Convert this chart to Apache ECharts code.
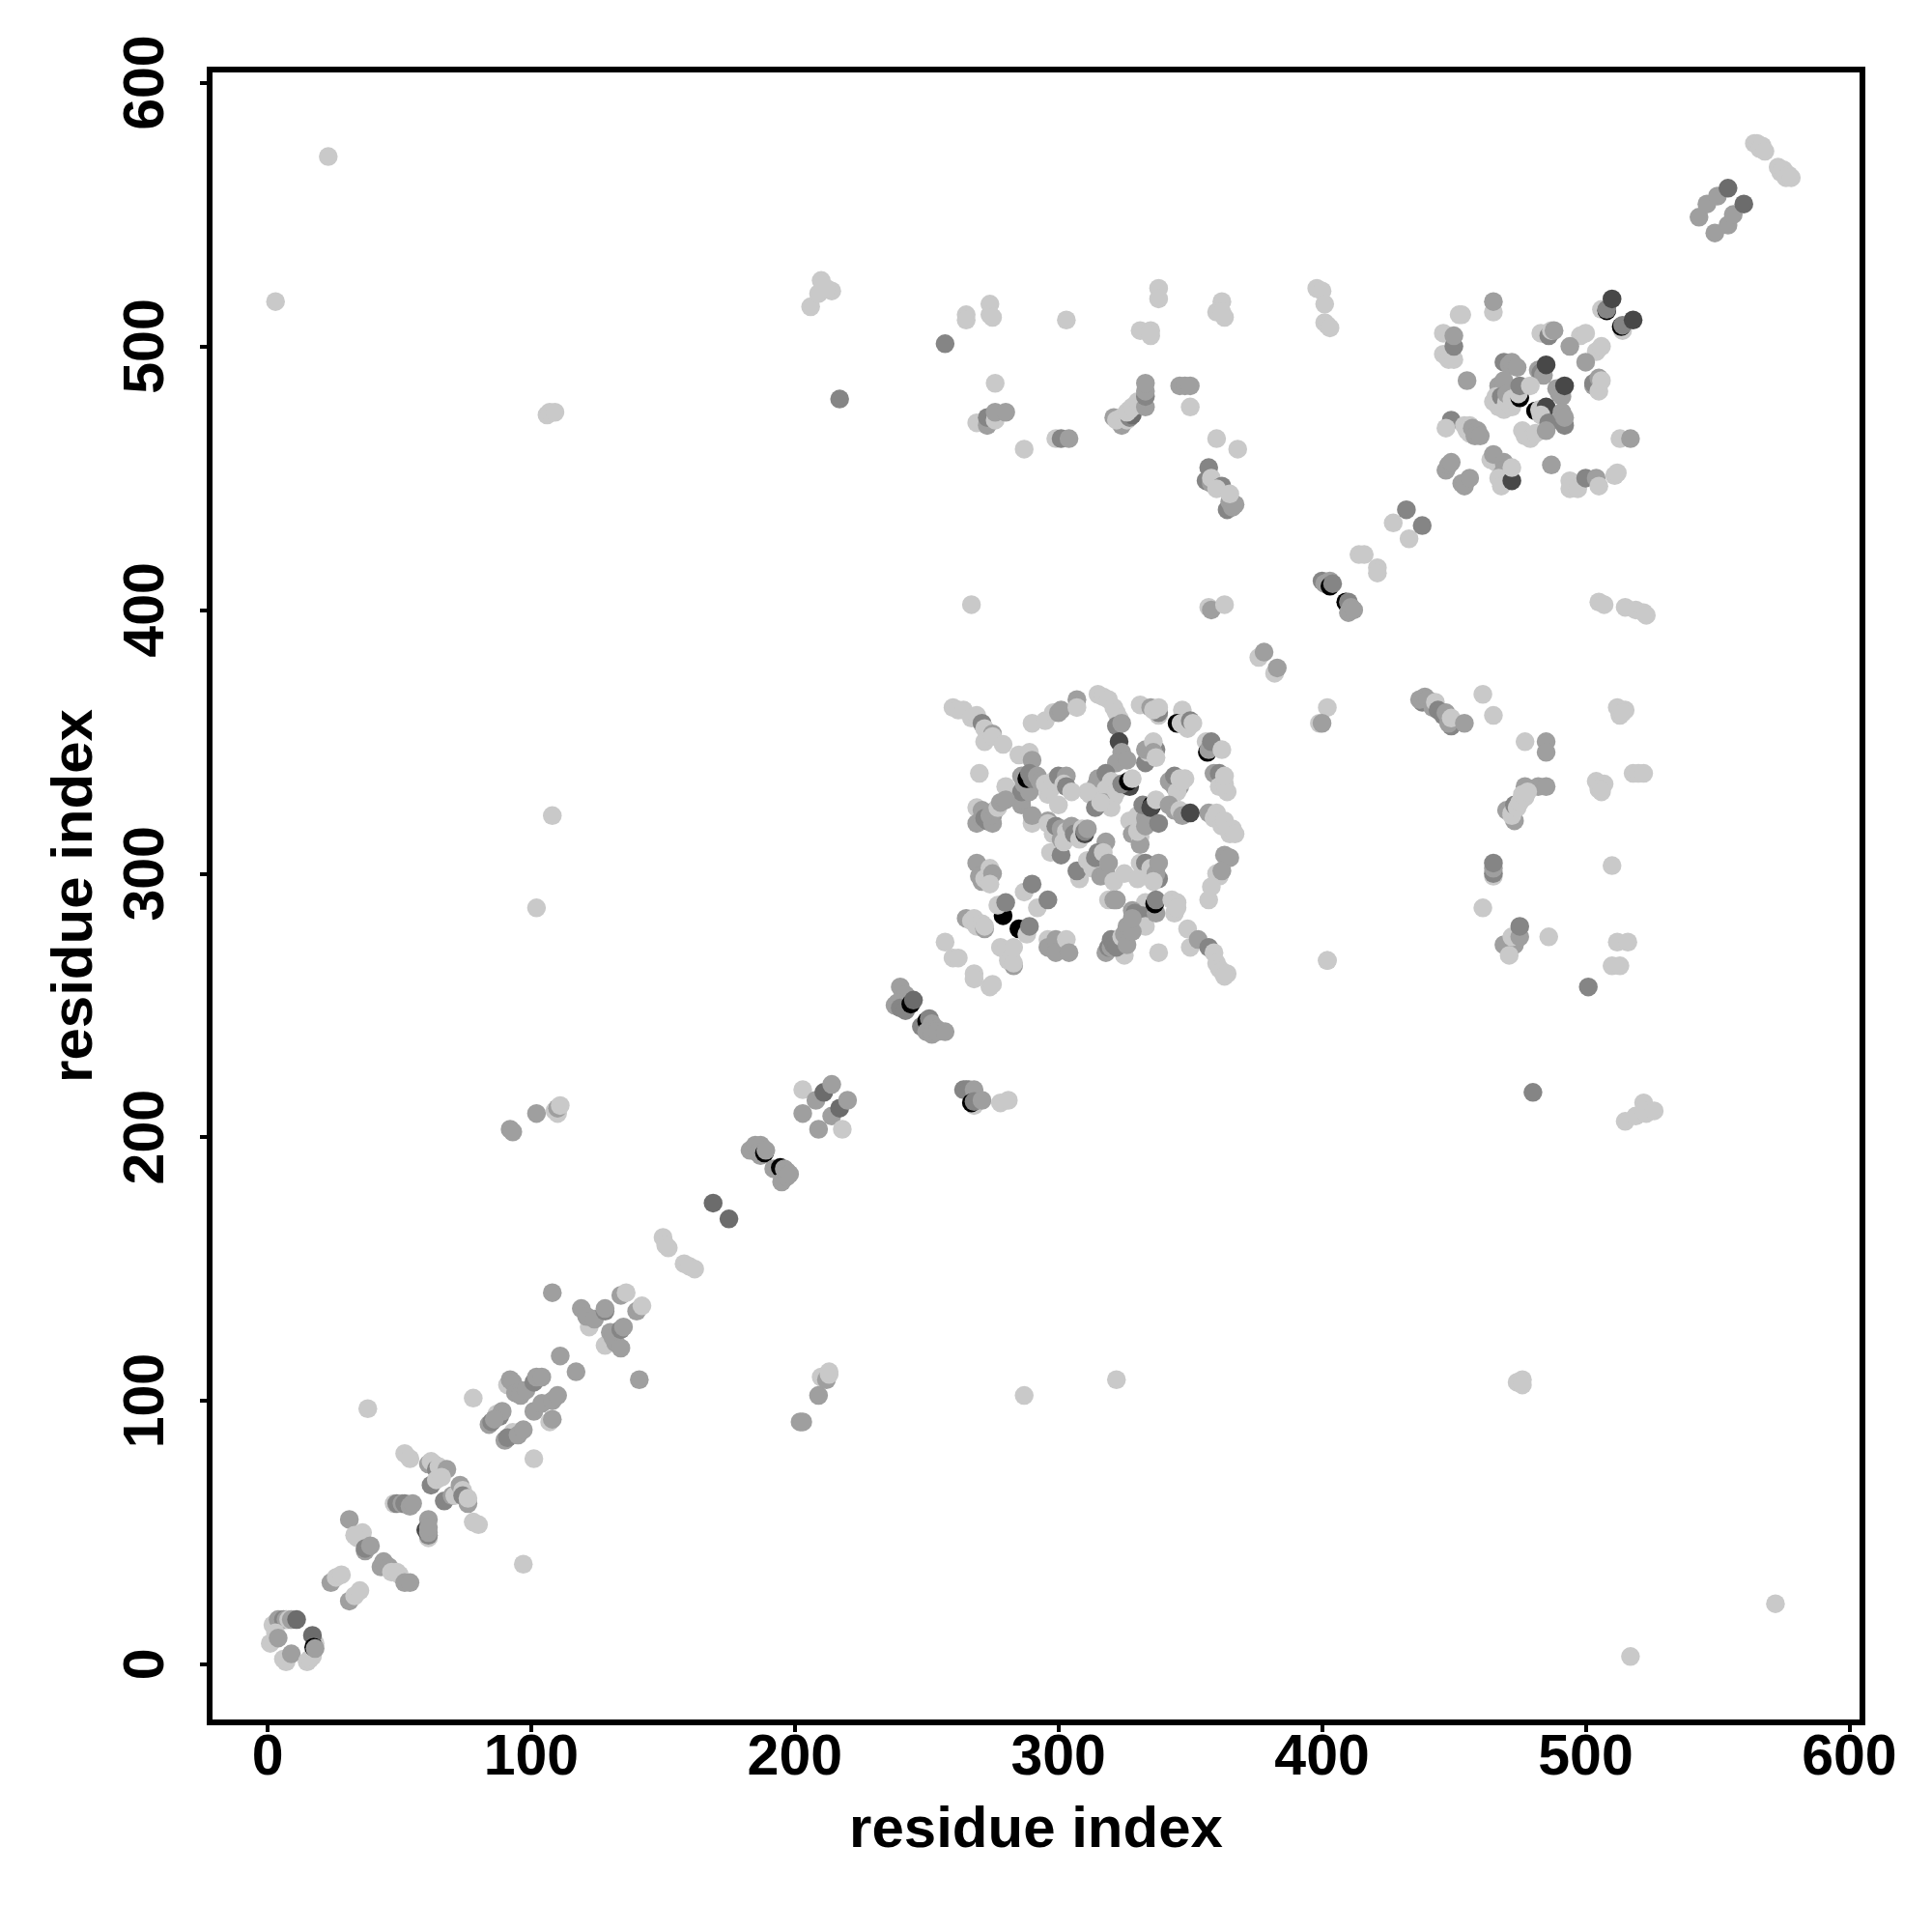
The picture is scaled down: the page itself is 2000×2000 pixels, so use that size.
<!DOCTYPE html>
<html><head><meta charset="utf-8"><title>Residue contact map</title>
<script src="https://cdn.jsdelivr.net/npm/echarts@6/dist/echarts.min.js"></script>
<style>html,body{margin:0;padding:0;background:#fff}#c{width:2000px;height:2000px}</style></head>
<body><div id="c"></div>
<script>
// Tick labels and axis text
const tickValues = [0, 100, 200, 300, 400, 500, 600];
const axisTitle = 'residue index';
// Gray shades, level 1..6
const grayLevels = ['#c9c9c9', '#9f9f9f', '#858585', '#484848', '#000000', '#6c6c6c'];
// Each point: [residue x, residue y, gray level], in drawing order
const isolated = [[23,572,1],[3,517,1],[517,3,1],[572,23,1],[38,97,1],[97,38,1],[78,101,1],[101,78,1],[106,474,1],[107,475,1],[109,475,1],[474,107,1],[476,108,1],[476,106,1],[217,480,3],[480,217,3],[267,402,1],[402,267,1],[108,322,1],[322,108,1],[102,287,1],[287,102,1],[108,141,2],[141,108,2],[111,117,2],[117,111,2],[92,203,2],[93,202,2],[102,209,2],[109,210,1],[110,209,1],[110,211,2],[111,212,1],[202,92,2],[203,92,2],[209,102,2],[210,109,1],[212,108,2],[213,110,1],[213,111,1],[257,501,3],[501,257,3]];
const diagonalA = [[2,15,1],[4,17,2],[6,17,3],[7,17,2],[8,17,1],[9,17,2],[11,17,6],[3,12,1],[1,8,1],[4,10,2],[7,1,1],[6,2,1],[9,4,2],[15,1,1],[16,2,1],[17,3,1],[18,8,1],[17,11,6],[17.5,6.5,5],[18,6,2],
[24,31,2],[26,33,1],[28,34,1],[31,24,2],[33,26,1],[35,28,1],[31,55,2],[34,48,1],[36,50,1],[33,49,1],[37,43,2],[37,44,3],[39,45,2],[43,37,2],[44,39,2],[46,37,2],[47,35,1],[49,35,1],[50,34,1],[52,31,2],[54,31,2],
[52,80,1],[54,78,1],[78,54,1],[80,53,1],[48,61,1],[49,61,3],[51,61,2],[52,61,3],[54,60,2],[55,61,2],[61,76,2],[63,76,2],[62,77,1],[64,74,3],[65,75,1],[66,73,1],[68,74,2],[62,68,3],[64,70,1],[66,71,1],[67,62,3],[70,64,2],[71,64,1],[73,68,2],[74,66,1],[74,64,3],[76,61,2],[76,63,1],[61,55,2],[61,48,1],[61,49,3],[60,51,4],[61,50,2],[61,52,2]];
const diagonalB = [[91,106,1],[92,108,2],[93,107,2],[94,103,2],[96,104,2],[96,102,2],[98,104,2],[101,107,3],[102,109,2],[104,109,2],[87,95,1],[88,94,3],[89,96,2],[84,91,2],[85,92,3],[86,93,2],[93,88,1],[90,85,2],[91,86,3],[95,87,2],[97,89,2],[101,96,2],[104,99,2],[108,100,2],[110,102,2],[107,92,1],[108,93,2],
[122,128,1],[119,135,2],[121,132,2],[124,131,2],[128,134,3],[128,135,2],[134,140,2],[136,141,1],[140,134,2],[142,136,1],[128,121,1],[130,126,2],[132,122,2],[131,124,2],[134,120,2],[134,127,3],[135,128,2]];
const diagonalC = [[150,162,1],[151,159,1],[152,158,1],[158,152,1],[160,151,1],[162,150,1],[169,175,6],[175,169,6],
[183,195,2],[185,197,2],[187,197,2],[186,194,2],[187,193,2],[188.5,194,5],[189,195,2],[192,188,2],[194.5,188.5,5],[196,188,2],[197,187,2],[195,183,2],[197,185,2],[198,186,2],
[203,218,1],[208,214,2],[211,217,6],[214,220,2],[203,209,2],[214,208,2],[217,211,6],[220,214,2],[209,203,2],[218,203,1],
[240,257,2],[242,254,2],[238,250,2],[239,251,2],[240,249,3],[242,248,3],[244,250.5,5],[245,252,6],[248,242,3],[250,244,5],[251,245,3],[252,243,2],[254,241,2],[250,240,2],[252,239,2],[254,240,2],[257,240,2]];
const diagonalD = [[376,382,1],[378,384,2],[382,376,1],[383,378,2],[400,411,3],[401,410,2],[403,411,2],[403,409,5],[404,410,3],[409,403,5],[410,403,3],[410,399,2],[411,401,2],[412,400,2],[414,421,1],[416,421,1],[421,416,1],[421,414,1],[427,433,1],[433,427,1],[432,438,3],[438,432,3]];
const cornerEnd = [[543,549,2],[546,554,2],[550,557,2],[554,560,6],[549,543,2],[554,546,2],[556,550,2],[560,554,6],[564,577,1],[565,577,1],[566,575,1],[567,576,1],[568,574,1],[573,568,1],[574,566,1],[575,567,1],[576,564,1],[577,565,1],[578,564,1]];
const blockLeftTop = [[264,218,3],[265,218,3],[266,218,3],[268,218,2],[268,212,1],[267,213,5],[268,213.5,3],[271,214,2],[278,213,1],[281,214,1],[515,206,1],[519,208,1],[522,213,1],[523,209,1],[522,210,1],[526,210,1],
[265,512,1],[265,510,1],[274,516,1],[274,512,1],[275,511,1],[303,510,1],[338,522,1],[338,518,1],[331,506,1],[335,506,1],[335,504,1],[362,517,1],[360,513,1],[363,511,1],[362,513,1],[276,486,1],
[206,515,1],[210,525,1],[209,520,1],[214,521,1],[212,522,1],[398,522,1],[400,521,1],[401,516,1],[401,509,1],[402,508,1],[403,507,1],
[269,471,1],[273,470,2],[273,473,3],[276,472,1],[276,475,2],[280,475,2],[287,461,1],[299,465,1],[301,465,3],[304,465,2],
[321,473,2],[324,470,2],[322,472,1],[324,473,1],[326,472,1],[327,473,3],[328,474,6],[327,476,1],[326,475,1],[328,477,1],[330,479,1],[333,477,2],[333,481,3],[333,483,2],[333,486,2],[346,485,2],[348,485,2],[350,485,2],[350,477,1],[360,465,1],[368,461,1],
[357,454,3],[356,449,3],[358,448,2],[358,450,1],[362,447,3],[360,446,1],[364,438,3],[365,441,2],[366,439,2],[367,440,2],[365,444,1]];
const blockRightLow = [[402,363,1],[399,357,1],[400,357,2],[357,401,1],[358,400,2],[363,402,1],[505,403,1],[507,402,1],[515,401,1],[519,400,1],[522,399,1],[523,398,1],
[438,365,3],[437,366,2],[439,367,2],[440,366,2],[442,363,2],[443,365,1],[444,362,3],[446,360,3],[447,361,2],[449,356,3],[448,357,2],[449,359,1],[454,357,2],[461,368,1],[465,360,1],
[477,350,1],[485,350,2],[485,346,2],[512,363,1],[515,362,1],[513,360,1],[514,361,1],[518,338,1],[520,338,1],[522,338,1],[504,335,1],[507,334,1],[505,332,1],[506,331,1],
[477,333,2],[482,333,2],[485,333,2],[470,324,2],[473,320,2],[472,323,1],[472,322,1],[473,326,3],[474,325,1],[475,327,1],[476,330,1],[477,329,1],[478,331,1],
[465,299,1],[465,300,3],[465,302,2],[465,304,3],[510,303,1],[461,287,1],[469,273,2],[473,273,2],[471,269,1],[472,276,1],[475,276,2],[475,280,3],[486,276,1],[512,274,1],[516,274,1],[510,265,1],[513,265,1],[402,267,1]];
const blockUpperRight = [[506,514,1],[508,513.5,5],[508,514,3],[510,518,4],[514,506,1],[513.5,507.5,5],[514,508,3],[518,510,4],[465,513,1],[465,517,2],[452,512,1],[453,512,1],[446,497,1],[448,495,1],[450,495,1],[446,505,1],[450,500,3],[450,504,2],[455,487,2],
[483,505,1],[486,504,3],[487,506,1],[488,506,2],[498,504,1],[500,505,1],[494,500,2],[504,498,1],[506,500,1],[500,494,2],[503,485,2],[503,486,3],[505,488,2],[505,483,1],[506,487,1],
[469,494,3],[471,493,2],[472,494,2],[474,492,2],[482,491,2],[483,490,3],[484,489,2],[485,493,4],[489,484,2],[490,482,2],[491,481,2],[492,485,4],
[467,485,2],[469,487,2],[465,479,1],[466,481,1],[467,477,1],[468,481,3],[469,476,1],[470,479,1],[470,482,2],[472,477,1],[472,480,1],[475,480.5,5],[474.5,482,1],[475,485,3],[479,485,1],
[481,475.5,5],[482.5,476,1],[485,477,4],[483,474,1],[486,471,3],[476,468,1],[477,466,1],[479,465,1],[481,467,1],[485,468,2],[491,475,2],[492,470,3],[492,473,2],
[449,472,3],[447,469,1],[454,470,1],[456,470,1],[455,468,1],[456,467,1],[457,469,2],[459,468,2],[458,466,2],[460,466,2],[447,453,2],[448,455,2],[449,456,2],[453,448,2],[454,447,2],[456,450,2],
[464,457,1],[466,456,1],[465,459,2],[469,456,2],[469,453,2],[468,451,2],[467,450,1],[468,447,1],[472,449,4],[472,454,1],[487,455,2],[494,449,1],[494,446,1],[497,446,1],[500,450,3],[504,450,2],[505,447,1],[511,451,1],[512,452,1],[513,465,1],[517,465,2]];
const centralEdge = [[260,363,1],[262,362,1],[264,362,1],[267,359,1],[269,360,1],[271,357,3],[272,355,1],[275,353,2],[272,350,1],[275,352,1],[279,349,1],[270,338,1],[285,345,1],[289,346,1],[290,343,2],
[290,357,1],[295,358,1],[298,361,1],[300,361,2],[301,362,2],[307,366,2],[307,363,1],[315,368,1],[317,367,1],[319,366,1],[321,363,1],[322,361,1],[323,359,1],[322,356,3],[324,357,2],
[331,364,1],[335,363,2],[338,360,1],[338,361,3],[336,362,1],[338,363,1],[347,362,1],[345,357,5],[346.5,357,1],[349,355,1],[350,358,3],[351,357,1],[356,350,1],[356.5,346,5],[357,347,2],[358,350,3],[362,347,1],
[359,338,2],[361,338,3],[361,333,1],[364,331,1],[363,334,1],[363,337,1],[357,323,2],[359,321,1],[360,323,1],[362,318,1],[363,320,1],[365,315,1],[366,317,1],[367,315,1]];
const centralUpper = [[323,350,4],[324,346,2],[322,342,2],[326,343,2],[333,342,3],[334,346,1],[333,347,2],[337,347,3],[336,350,1],[336,346,2],[337,344,1],
[314,333,2],[316,330,1],[315,336,2],[318,338,3],[320,335,1],[318,332,1],[321,329,1],[317,327,2],[320,325,1],[312,330,1],[314,325,3],[316,327,1],[322,331,1],[311,331,1],[327,333,4],[324,334,3],[326.5,335,5],[328,336,1],
[342,335,2],[344,333,2],[346,333,2],[344,337,3],[345,331,1],[346,336,1],[348,336,1],[347,335,1],
[327,320,1],[329,318,1],[330,322,1],[328,315,2],[331,314,1],[331,311,2],[330,316,1],[333,321,2],[333,318,2],[332,326,3],[335.5,326,5],[335,325,4],[337,328,1],[338,319,3],[342,326,2],[344,324,2],[346,324,1],[347,322,2],[350,323,4]];
const centralLeft = [[280,333,1],[286,326,2],[286,328,2],[286,331,3],[287,334,2],[286,337,2],[289,331,2],[288,336,5],[289,338,3],[290,336,3],[292,337,2],[293,335,2],[295,334,1],[296,330,1],[297,332,1],[300,326,1],[298,335,1],[300,337,3],[303,337,2],[302,334,1],[303,333,3],[305,331,1],
[269,325,1],[269,319,2],[271,321,2],[271,324,2],[272,321,3],[273,320,3],[275,322,3],[275,319,2],[274,322,2],[276,324,2],[277,325,1],[278,327,2],[280,328,2],
[290,319,1],[290,322,2],[296,320,2],[296,319,1],[298,315,1],[299,318,3],[297,308,1],[301,307,3],[301,317,2],[301,313,2],[303,316,1],[302,312,1],[305,318,2],[306,315,3],[308,313,1],[309,317,1],[310,315,4],[310,316,3],[311,317,2]];
const centralLower = [[318,312,2],[308,298,1],[307,301,3],[311,305,1],[313,302,1],[315,305,1],[314,306,3],[315,308,3],[317,308,1],[316,299,2],[318,300,2],[319,304,2],[321,297,1],[325,300,1],[319,290,1],[321,290,2],[322,290,2],
[331,304,1],[333,304,3],[335,302,1],[338,298,3],[337,300,2],[338,304,2],[330,298,1],[336,297,1],[333,289,1],[328,286,2],[329,285,3],[332,284,3],[333,280,1],[337,285,2],[336.5,288.5,5],[337,290,3],[343,290,1],[345,289,1],[344,285,1],[345,287,1],
[349,279,1],[350,272,1],[353,275,2],[357,272,3],[359,270,1],[360,266,1],[361,264,1],[362,263,1],[364,262,1],[363,261,1],[338,270,1],
[325,269,1],[318,270,2],[319,272,3],[320,272,2],[320,275,3],[321,273,3],[322,272,3],[324,276,1],[325,277,2],[326,273,2],[326,280,2],[328,278,2],[328,283,2],
[296,275,1],[296,272,2],[299,275,2],[299,270,2],[303,275,1],[304,270,2]];
const centralBottomLeft = [[283,265,2],[278,272,1],[280,271,1],[281,267,1],[282,268,1],[283,266,1],[283,272,1],[257,274,1],[260,268,1],[262,268,1],[268,262,1],[268,260,1],[274,257,1],[275,258,1],
[265,283,2],[267,282,1],[268,283,1],[269,280,1],[271,281,1],[272,279,2],[272,280,1],[279,284,5],[277,288,1],[280,289,3],[287,293,1],[290,296,3],[292,287,1],[296,290,3],[285,279,5],[288,277,1],[289,280,3],
[269,304,2],[270,299,2],[271,297,2],[272,298,1],[274,302,1],[275,300,2],[274,296,1],[363,307,2],[365,306,2],[360,300,1],[361,299,1],[362,301,2],[358,295,1],[357,290,1]];

const allPoints = [].concat(isolated, diagonalA, diagonalB, diagonalC, diagonalD, cornerEnd, blockLeftTop, blockRightLow, blockUpperRight, centralEdge, centralUpper, centralLeft, centralLower, centralBottomLeft);

const font = {fontFamily: '"Liberation Sans", Arial, sans-serif', fontWeight: 'bold', color: '#000'};
function axis(nameGap, rotate, margin) {
  return {
    type: 'value', min: -22, max: 605, splitLine: {show: false},
    name: axisTitle, nameLocation: 'middle', nameGap: nameGap,
    nameTextStyle: {...font, fontSize: 60},
    axisLine: {show: false, onZero: false},
    axisTick: {show: true, length: 10, lineStyle: {color: '#000', width: 4}, customValues: tickValues},
    axisLabel: {show: true, rotate: rotate, margin: margin, ...font, fontSize: 59, customValues: tickValues, formatter: v => String(v)}
  };
}
const chart = echarts.init(document.getElementById('c'), null, {renderer: 'canvas', width: 2000, height: 2000});
chart.setOption({
  backgroundColor: '#fff', animation: false,
  grid: {left: 217, top: 72, width: 1711, height: 1711, show: true, borderColor: '#000', borderWidth: 6, backgroundColor: 'transparent'},
  xAxis: axis(82, 0, 8),
  yAxis: axis(109, 90, 35),
  series: [{
    type: 'scatter', symbol: 'circle', symbolSize: 19.5, large: false, silent: true,
    data: allPoints.map(p => ({value: [p[0], p[1]], itemStyle: {color: grayLevels[p[2] - 1], opacity: 1}}))
  }]
});
</script></body></html>
